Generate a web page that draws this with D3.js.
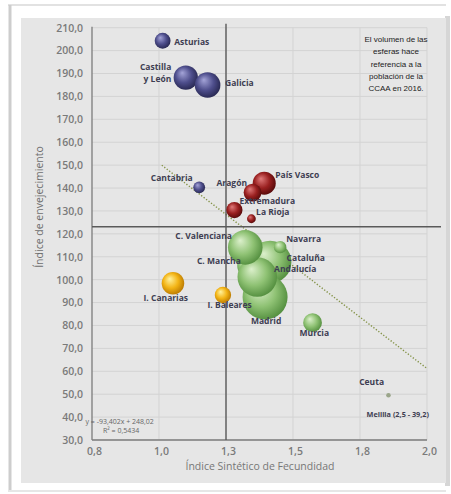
<!DOCTYPE html>
<html><head><meta charset="utf-8">
<script src="https://cdn.jsdelivr.net/npm/d3@7"></script>
<style>
html,body{margin:0;padding:0;background:#fff;}
svg{display:block;}
</style></head>
<body>
<svg id="c" width="451" height="494"></svg>
<script>
// ---- data ----
const regions = ["Asturias","Castilla y León","Galicia","Cantabria","País Vasco","Aragón","Extremadura","La Rioja",
  "Cataluña","Andalucía","C. Mancha","Madrid","C. Valenciana","Navarra","Murcia","I. Canarias","I. Baleares","Ceuta"];
const fecundidad = [1.053,1.136,1.214,1.184,1.417,1.375,1.310,1.371,
  1.438,1.420,1.360,1.392,1.349,1.474,1.590,1.090,1.269,1.862];
const envejecimiento = [204.3,188.2,185.0,140.3,142.1,138.0,130.4,126.6,
  107.7,92.4,106.0,101.2,114.1,114.2,81.2,98.4,93.3,49.5];
const poblacion = [1.04,2.45,2.72,0.58,2.19,1.31,1.09,0.32,
  7.52,8.39,2.04,6.47,4.96,0.64,1.46,2.10,1.11,0.085];
const grupo = ["norte","norte","norte","norte","ebro","ebro","ebro","ebro",
  "verde","verde","verde","verde","verde","verde","verde","islas","islas","verde"];
const xTicks = [0.8,1.04,1.28,1.52,1.76,2.0];
const xTickLabels = ["0,8","1,0","1,3","1,5","1,8","2,0"];
const yTicks = [30,40,50,60,70,80,90,100,110,120,130,140,150,160,170,180,190,200,210];
const mediaFecundidad = 1.28;
const mediaEnvejecimiento = 123.1;
const tendencia = {a:-93.402, b:248.02, x0:1.05, x1:2.0};
const ecuacion = ["y = -93,402x + 248,02","R² = 0,5434"];
const nota = ["El volumen de las","esferas hace","referencia a la","población de la","CCAA en 2016."];
const melillaLabel = "Melilla (2,5 - 39,2)";

// ---- layout (label offsets in px relative to bubble centre) ----
const labelLayout = {
  "Asturias":{dx:11.5,dy:1.5,a:"start"},
  "Castilla y León":{dx:-14.5,dy:-11,a:"end",lines:["Castilla","y León"]},
  "Galicia":{dx:17.5,dy:-2,a:"start"},
  "Cantabria":{dx:-6.5,dy:-9,a:"end"},
  "País Vasco":{dx:11,dy:-8.5,a:"start"},
  "Aragón":{dx:-5.5,dy:-10,a:"end"},
  "Extremadura":{dx:5,dy:-8.7,a:"start"},
  "La Rioja":{dx:4.7,dy:-7,a:"start"},
  "Cataluña":{dx:16.5,dy:-3.7,a:"start"},
  "Andalucía":{dx:9,dy:-28.5,a:"start"},
  "C. Mancha":{dx:-7.5,dy:-5,a:"end"},
  "Madrid":{dx:-6.3,dy:44.3,a:"start"},
  "C. Valenciana":{dx:-13.3,dy:-11.3,a:"end"},
  "Navarra":{dx:6,dy:-8.6,a:"start"},
  "Murcia":{dx:-13,dy:10,a:"start"},
  "I. Canarias":{dx:-29.4,dy:14.4,a:"start"},
  "I. Baleares":{dx:-15.4,dy:10,a:"start"},
  "Ceuta":{dx:-29.3,dy:-13.6,a:"start"}
};
const grad = {
  norte:["#a4a4d8","#4e4e8c","#24244c"],
  ebro:["#e07a7a","#9a2020","#500808"],
  verde:["#dcf0cc","#8fc274","#4e8a3a"],
  islas:["#fff3a0","#f3b415","#b47400"]
};

const svg = d3.select("#c");
const W = 451, H = 494;
svg.append("rect").attr("width",W).attr("height",H).attr("fill","#fff");
// frame
svg.append("line").attr("x1",8).attr("x2",446).attr("y1",5).attr("y2",5).attr("stroke","#e2e2e2").attr("stroke-width",2);
svg.append("line").attr("x1",10).attr("x2",10).attr("y1",5).attr("y2",490).attr("stroke","#cdcdcd").attr("stroke-width",3);
svg.append("line").attr("x1",8).attr("x2",446).attr("y1",491).attr("y2",491).attr("stroke","#e6e6e6").attr("stroke-width",2);
svg.append("rect").attr("x",445).attr("y",16).attr("width",5).attr("height",470).attr("fill","#d6d6d6");
svg.append("rect").attr("x",21).attr("y",18).attr("width",425).attr("height",465).attr("fill","#e6e6e6");

const x = d3.scaleLinear().domain([0.8,2.0]).range([92,427]);
const y = d3.scaleLinear().domain([30,210]).range([440,27.7]);
const r = d3.scaleSqrt().domain([0,8.39]).range([0,22.5]);

const defs = svg.append("defs");
Object.entries(grad).forEach(([k,c])=>{
  const g = defs.append("radialGradient").attr("id","g_"+k).attr("cx","45%").attr("cy","45%").attr("r","60%").attr("fx","35%").attr("fy","30%");
  g.append("stop").attr("offset","0%").attr("stop-color",c[0]);
  g.append("stop").attr("offset","55%").attr("stop-color",c[1]);
  g.append("stop").attr("offset","100%").attr("stop-color",c[2]);
});

// grid
const grid = svg.append("g");
grid.selectAll("line.h").data(yTicks).join("line")
  .attr("x1",x(0.8)).attr("x2",x(2.0)).attr("y1",d=>y(d)).attr("y2",d=>y(d))
  .attr("stroke","#d3d3d3").attr("stroke-width",1);
grid.selectAll("line.v").data(xTicks.slice(1)).join("line")
  .attr("y1",y(30)).attr("y2",y(210)).attr("x1",d=>x(d)).attr("x2",d=>x(d))
  .attr("stroke","#d3d3d3").attr("stroke-width",1);

// axes
const fmtY = d => d3.format(".1f")(d).replace(".",",");
const ya = svg.append("g").attr("transform",`translate(${x(0.8)},0)`)
  .call(d3.axisLeft(y).tickValues(yTicks).tickSize(0).tickPadding(9).tickFormat(fmtY));
const xa = svg.append("g").attr("transform",`translate(0,${y(30)})`)
  .call(d3.axisBottom(x).tickValues(xTicks).tickSize(0).tickPadding(8).tickFormat((d,i)=>xTickLabels[i]));
[ya,xa].forEach(a=>{
  a.select(".domain").remove();
  a.selectAll("text").attr("fill","#7a7a7a").attr("font-family","Open Sans, sans-serif").attr("font-size",10.5).attr("font-weight",600);
});
xa.selectAll("text").attr("dx",2);

svg.append("line").attr("x1",x(0.8)).attr("x2",x(0.8)).attr("y1",y(210)-1).attr("y2",y(30)).attr("stroke","#7c7c7c").attr("stroke-width",1.3);
svg.append("line").attr("x1",x(0.8)).attr("x2",x(2.0)).attr("y1",y(30)).attr("y2",y(30)).attr("stroke","#7c7c7c").attr("stroke-width",1.3);

// titles
svg.append("text").attr("x",260).attr("y",470).attr("text-anchor","middle")
  .attr("font-family","Open Sans, sans-serif").attr("font-size",10.5).attr("fill","#777").text("Índice Sintético de Fecundidad");
svg.append("text").attr("transform","translate(43,207) rotate(-90)").attr("text-anchor","middle")
  .attr("font-family","Open Sans, sans-serif").attr("font-size",10.5).attr("fill","#6e6e6e").text("Índice de envejecimiento");

// trend line
svg.append("line")
  .attr("x1",x(tendencia.x0)).attr("y1",y(tendencia.a*tendencia.x0+tendencia.b))
  .attr("x2",x(tendencia.x1)).attr("y2",y(tendencia.a*tendencia.x1+tendencia.b))
  .attr("stroke","#849348").attr("stroke-width",1.4).attr("stroke-dasharray","1.3,1.8");

// mean lines
svg.append("line").attr("x1",x(mediaFecundidad)).attr("x2",x(mediaFecundidad)).attr("y1",y(210)-4).attr("y2",y(30))
  .attr("stroke","#5a5a5a").attr("stroke-width",1.4);
svg.append("line").attr("x1",x(0.8)).attr("x2",441).attr("y1",y(mediaEnvejecimiento)).attr("y2",y(mediaEnvejecimiento))
  .attr("stroke","#5a5a5a").attr("stroke-width",1.4);

// bubbles
const data = regions.map((n,i)=>({n, fx:fecundidad[i], ev:envejecimiento[i], p:poblacion[i], g:grupo[i]}));
svg.append("g").selectAll("circle").data(data).join("circle")
  .attr("cx",d=>x(d.fx)).attr("cy",d=>y(d.ev)).attr("r",d=>r(d.p))
  .attr("fill",d=>d.n==="Ceuta"?"#9aa58a":`url(#g_${d.g})`);

// labels
const lg = svg.append("g").attr("font-family","Open Sans, sans-serif").attr("font-size",8.5).attr("font-weight",700).attr("fill","#3e3e52");
data.forEach(d=>{
  const L = labelLayout[d.n];
  const cx = x(d.fx), cy = y(d.ev);
  const lines = L.lines || [d.n];
  lines.forEach((t,k)=>{
    lg.append("text").attr("x",cx+L.dx).attr("y",cy+L.dy+k*12.6).attr("dy","0.35em")
      .attr("text-anchor",L.a).text(t);
  });
});
svg.append("text").attr("x",366.5).attr("y",414).attr("dy","0.35em")
  .attr("font-family","Open Sans, sans-serif").attr("font-size",7.3).attr("font-weight",700).attr("fill","#3e3e52").text(melillaLabel);

// equation
const eq = svg.append("g").attr("font-family","Open Sans, sans-serif").attr("font-size",7).attr("fill","#666");
eq.append("text").attr("x",85.5).attr("y",421.5).attr("dy","0.35em").text(ecuacion[0]);
eq.append("text").attr("x",103).attr("y",430.7).attr("dy","0.35em").text(ecuacion[1]);

// note
const nt = svg.append("g").attr("font-family","Liberation Sans Narrow, Arial Narrow, sans-serif").attr("font-size",8).attr("fill","#222").attr("text-anchor","middle");
nota.forEach((t,i)=>nt.append("text").attr("x",396).attr("y",39.3+i*12.2).attr("dy","0.35em").text(t));
</script>
</body></html>
